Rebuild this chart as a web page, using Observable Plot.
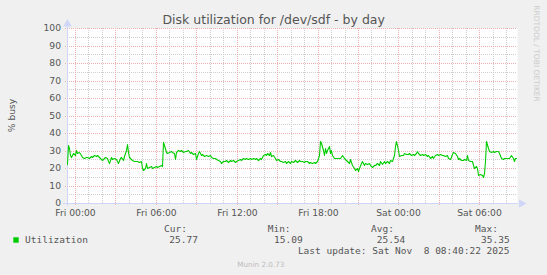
<!DOCTYPE html>
<html><head><meta charset="utf-8">
<script src="https://cdn.jsdelivr.net/npm/d3@7"></script>
<script src="https://cdn.jsdelivr.net/npm/@observablehq/plot@0.6"></script>
<style>
html,body{margin:0;padding:0;background:#F0F0F0;}
svg{display:block}
</style></head><body><div id="chart"></div>
<script>
// hours since Fri 00:00 (2025-11-07)
const hours = [
-0.56,-0.48,-0.41,-0.33,-0.24,-0.11,0.01,0.11,0.21,0.33,0.46,0.58,0.70,0.83,0.95,1.07,1.20,1.32,1.44,1.57,
1.69,1.81,1.94,2.06,2.13,2.26,2.39,2.48,2.56,2.68,2.80,2.93,3.05,3.17,3.24,3.35,3.47,3.59,3.67,3.79,
3.87,3.96,4.06,4.16,4.28,4.41,4.53,4.65,4.78,4.90,4.98,5.10,5.22,5.32,5.39,5.52,5.64,5.76,5.89,6.01,
6.13,6.26,6.39,6.46,6.53,6.63,6.76,6.87,7.00,7.13,7.24,7.37,7.44,7.54,7.67,
7.79,7.91,8.04,8.16,8.28,8.41,8.53,8.65,8.78,8.90,9.02,9.15,9.22,9.35,9.44,9.59,9.76,9.89,10.01,10.13,
10.26,10.39,10.50,10.63,10.76,10.87,11.00,11.13,11.24,11.37,11.50,11.61,11.74,11.87,11.99,12.11,12.24,12.36,12.48,12.61,
12.73,12.85,12.98,13.10,13.22,13.35,13.47,13.59,13.72,13.84,13.96,14.09,14.21,14.28,14.39,14.48,14.58,14.70,14.83,14.95,
15.07,15.20,15.32,15.44,15.57,15.69,15.81,15.94,16.06,16.19,
16.36,16.48,16.61,16.73,16.85,16.98,17.10,17.22,17.35,17.47,17.59,17.72,17.84,17.96,18.09,18.19,18.28,18.39,18.48,18.58,
18.65,18.73,18.83,18.90,19.00,19.07,19.20,19.32,19.44,19.57,19.69,19.81,19.94,20.06,20.19,20.31,20.43,20.56,20.68,20.80,
20.93,21.00,21.10,21.20,21.30,21.42,21.54,21.67,21.79,21.91,22.04,22.16,22.28,22.41,22.53,22.65,22.78,22.90,23.02,23.15,
23.27,23.39,23.52,23.64,23.74,23.84,23.94,24.06,24.19,24.31,24.43,24.56,
24.68,24.80,24.93,25.05,25.17,25.30,25.37,25.47,25.59,25.72,25.84,25.96,26.09,26.21,26.33,26.46,26.58,26.70,26.83,26.95,
27.07,27.20,27.32,27.44,27.57,27.69,27.81,27.94,28.06,28.19,28.31,28.43,28.50,28.63,28.76,28.87,29.00,29.07,29.17,29.30,
29.42,29.50,29.61,29.74,29.81,29.91,30.04,30.16,30.26,30.36,30.43,30.50,30.61,30.73,30.85,30.98,31.10,31.22,31.35,31.47,
31.59,31.72,31.84,31.96,32.09,32.21,32.33,32.46,32.53,32.63,32.70
];
const util = [
22.5,33.0,31.4,27.4,26.4,28.4,27.4,30.4,28.4,29.4,27.4,26.1,25.7,26.1,26.4,25.7,26.8,26.4,27.2,26.6,
27.6,26.1,25.4,24.7,25.4,26.1,25.7,23.8,22.9,26.1,25.4,25.7,25.4,24.2,22.9,25.7,26.1,24.7,26.6,30.4,
33.5,29.4,26.4,25.4,24.7,24.2,23.8,23.8,23.4,24.2,20.0,19.1,20.0,22.9,20.0,20.4,20.9,20.0,20.4,20.9,
20.6,20.9,21.9,20.9,35.0,33.4,29.4,28.4,29.4,29.8,29.4,28.4,25.4,29.4,30.4,
29.9,30.5,29.0,30.0,29.5,30.5,28.5,29.0,28.0,28.5,25.3,28.5,30.0,27.2,28.0,26.6,27.2,26.6,27.2,26.5,
26.0,25.7,25.3,24.7,24.2,22.8,24.2,23.8,24.7,23.4,24.5,23.8,24.5,23.4,24.2,24.7,25.3,24.7,25.7,25.3,
26.0,25.3,25.7,25.3,26.0,25.3,25.7,24.7,25.7,25.3,27.2,28.0,27.2,28.5,27.6,29.0,26.6,27.2,25.7,24.7,
25.3,23.8,24.2,23.4,23.8,23.0,23.8,23.0,24.2,23.4,
24.5,23.4,24.7,23.8,24.2,23.4,24.2,23.8,23.0,23.4,23.0,23.2,22.8,23.8,27.6,35.2,34.3,30.5,27.6,31.4,
28.5,30.5,32.4,28.5,30.5,27.2,26.0,26.0,25.7,26.0,25.7,27.6,26.0,25.3,23.8,22.8,25.3,21.9,20.0,19.0,
20.0,18.1,20.0,22.8,23.8,21.9,22.8,22.3,22.8,21.5,20.7,21.9,21.5,22.8,21.9,23.8,22.3,24.2,22.8,24.2,
22.8,24.7,23.8,27.6,32.4,35.2,30.5,26.6,27.6,27.2,28.5,28.0,
28.0,28.5,27.6,28.0,27.2,28.5,29.9,28.5,27.6,28.0,27.2,28.0,26.6,27.2,25.7,26.6,25.7,27.2,28.0,27.2,
28.0,27.2,27.6,26.6,27.2,26.0,25.3,28.0,29.0,28.5,26.6,25.3,26.0,24.7,24.7,25.0,24.7,27.2,24.7,23.8,
24.2,21.5,20.0,21.0,20.0,16.2,16.6,15.8,15.1,17.1,23.8,35.4,31.4,29.5,29.0,29.5,29.0,29.5,29.9,28.5,
25.7,25.3,26.0,25.7,26.0,25.7,27.2,25.7,24.2,26.0,25.8
];
const domainHours = [-0.556, 32.778];
const xTickHours = [0, 6, 12, 18, 24, 30];
const xTickLabels = ["Fri 00:00", "Fri 06:00", "Fri 12:00", "Fri 18:00", "Sat 00:00", "Sat 06:00"];
const majorHours = [0, 3, 6, 9, 12, 15, 18, 21, 24, 27, 30];
const minorHours = [1, 2, 4, 5, 7, 8, 10, 11, 13, 14, 16, 17, 19, 20, 22, 23, 25, 26, 28, 29, 31, 32];
const yTicks = [0, 10, 20, 30, 40, 50, 60, 70, 80, 90, 100];
const yMajorGrid = [10, 20, 30, 40, 50, 60, 70, 80, 90, 100];
const yMinorGrid = [5, 15, 25, 35, 45, 55, 65, 75, 85, 95];
const title = "Disk utilization for /dev/sdf - by day";
const yLabel = "% busy";
const seriesName = "Utilization";
const legendHeads = ["Cur:", "Min:", "Avg:", "Max:"];
const legendValues = ["25.77", "15.09", "25.54", "35.35"];
const lastUpdate = "Last update: Sat Nov  8 08:40:22 2025";
const footer = "Munin 2.0.73";
const watermark = "RRDTOOL / TOBI OETIKER";

const base = Date.UTC(2025, 10, 7);
const T = h => new Date(base + h * 3600e3);
const data = hours.map((h, i) => ({t: T(h), v: util[i]}));

const GRID = "#cfcfcf", MGRID = "#efafaf", AXIS = "#CFD6F8", FONT = "#555555", LINE = "#00CC00";
const dots = {strokeDasharray: "1,1"};

const svg = Plot.plot({
  width: 547, height: 275,
  marginTop: 28, marginBottom: 72, marginLeft: 67, marginRight: 30,
  style: {background: "#F0F0F0", fontFamily: "'DejaVu Sans', sans-serif", fontSize: "9.2px", color: FONT},
  x: {type: "utc", domain: domainHours.map(T), round: true},
  y: {domain: [0, 100], round: true},
  marks: [
    Plot.frame({fill: "white", stroke: null}),
    Plot.ruleY(yMinorGrid, {stroke: GRID, ...dots}),
    Plot.ruleX(minorHours.map(T), {stroke: GRID, ...dots}),
    Plot.ruleY(yMajorGrid, {stroke: MGRID, insetLeft: -2, ...dots}),
    Plot.ruleX(majorHours.map(T), {stroke: MGRID, insetBottom: -3, ...dots}),
    Plot.ruleY([0], {stroke: AXIS, insetLeft: -4, insetRight: -1}),
    Plot.ruleX([T(domainHours[0])], {stroke: AXIS, insetTop: -2, insetBottom: -3}),
    Plot.dot([100], {x: () => T(domainHours[0]), y: d => d, symbol: "triangle", r: 3.2, fill: AXIS, stroke: null, dy: -4.5}),
    Plot.dot([0], {x: () => T(domainHours[1]), y: d => d, symbol: "triangle", r: 3.2, fill: AXIS, stroke: null, dx: 4, rotate: 90}),
    Plot.line(data, {x: "t", y: "v", stroke: LINE, strokeWidth: 1.1}),
    Plot.axisY(yTicks, {tickSize: 0, tickPadding: 6.5, label: null, fill: FONT}),
    Plot.axisX(xTickHours.map(T), {tickSize: 0, tickPadding: 6, label: null, fill: FONT,
      tickFormat: d => xTickLabels[xTickHours.indexOf(Math.round((d - base) / 3600e3))]})
  ]
});
document.getElementById("chart").appendChild(svg);

const s = d3.select(svg);
const g = s.append("g").attr("fill", FONT).attr("text-anchor", "start").style("white-space", "pre");
g.append("text").text(title).attr("x", 273.7).attr("y", 24)
  .attr("text-anchor", "middle").style("font", "12.5px 'DejaVu Sans'");
g.append("text").text(yLabel).attr("transform", "translate(12,115.5) rotate(-90)")
  .attr("text-anchor", "middle").attr("dy", "0.35em").style("font", "9.2px 'DejaVu Sans'");
g.append("text").text(watermark).attr("transform", "translate(536.8,53.5) rotate(90)")
  .attr("text-anchor", "middle").attr("dy", "0.35em").attr("fill", "#cccccc").style("font", "7.5px 'DejaVu Sans'");
g.append("text").text(footer).attr("x", 260.8).attr("y", 266.6)
  .attr("text-anchor", "middle").attr("fill", "#bbbbbb").style("font", "7.2px 'DejaVu Sans'");

const mono = "9.5px 'DejaVu Sans Mono'";
g.append("rect").attr("x", 13.3).attr("y", 237.3).attr("width", 5.4).attr("height", 5.4).attr("fill", LINE);
g.append("text").text(seriesName).attr("x", 25).attr("y", 243.2).style("font", mono);
const headX = [164, 267.7, 371, 475];
const valX = [169.3, 274, 376.7, 481];
legendHeads.forEach((h, i) => {
  g.append("text").text(h).attr("x", headX[i]).attr("y", 231.7).style("font", mono);
  g.append("text").text(legendValues[i]).attr("x", valX[i]).attr("y", 243.2).style("font", mono);
});
g.append("text").text(lastUpdate).attr("x", 509.5).attr("y", 254.3)
  .attr("text-anchor", "end").style("font", mono);
</script></body></html>
